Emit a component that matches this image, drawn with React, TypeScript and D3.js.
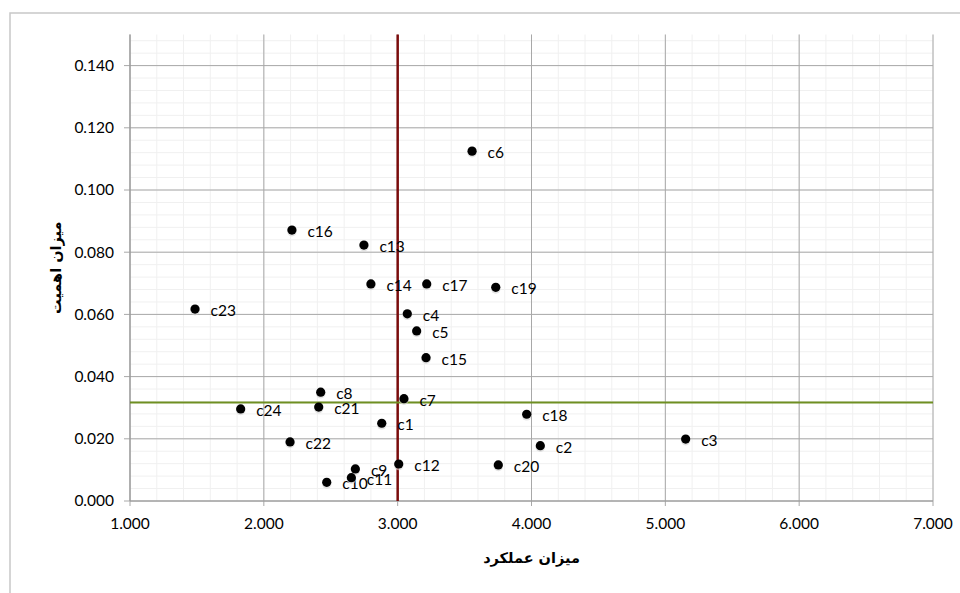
import React from "react";
import * as d3 from "d3";

const labels = ["c1","c2","c3","c4","c5","c6","c7","c8","c9","c10","c11","c12","c13","c14","c15","c16","c17","c18","c19","c20","c21","c22","c23","c24"];
const performance = [2.881,4.066,5.152,3.072,3.142,3.556,3.047,2.425,2.684,2.470,2.654,3.008,2.748,2.800,3.212,2.210,3.217,3.964,3.733,3.752,2.410,2.196,1.486,1.827];
const importance = [0.0250,0.0178,0.0199,0.0602,0.0547,0.1125,0.0329,0.0350,0.0103,0.0060,0.0075,0.0119,0.0823,0.0698,0.0461,0.0871,0.0698,0.0279,0.0687,0.0116,0.0302,0.0190,0.0617,0.0296];
const xTicks = [1,2,3,4,5,6,7];
const yTicks = [0,0.02,0.04,0.06,0.08,0.1,0.12,0.14];
const refX = 3.0;
const refY = 0.0317;
const xTitle = "میزان عملکرد";
const yTitle = "میزان اهمیت";

export default function App() {
  const W = 960, H = 593;
  const x = d3.scaleLinear().domain([1, 7]).range([130, 933]);
  const y = d3.scaleLinear().domain([0, 0.15]).range([501, 34.5]);
  const xMinor = d3.range(1, 7.001, 0.2);
  const yMinor = d3.range(0, 0.1501, 0.004);
  const font = "Lato, 'Open Sans', sans-serif";
  const gridColor = "#a8a8a8";
  return (
    <svg width={W} height={H} style={{ position: "absolute", left: 0, top: 0, background: "#fff" }}>
      <rect x={10} y={13} width={960} height={600} fill="#fff" stroke="#c8c8c8" strokeWidth={1.5} />
      {xMinor.map((v, i) => (
        <line key={"xm" + i} x1={x(v)} x2={x(v)} y1={y(0.15)} y2={y(0)} stroke="#f0f0f0" strokeWidth={1} />
      ))}
      {yMinor.map((v, i) => (
        <line key={"ym" + i} x1={x(1)} x2={x(7)} y1={y(v)} y2={y(v)} stroke="#f0f0f0" strokeWidth={1} />
      ))}
      {yTicks.map((v) => (
        <g key={"yt" + v}>
          <line x1={x(1) - 6} x2={x(7)} y1={y(v)} y2={y(v)} stroke={gridColor} strokeWidth={1} />
          <text x={114} y={y(v)} dy="0.35em" textAnchor="end" fontFamily={font} fontSize={15.5} fill="#000">
            {v.toFixed(3)}
          </text>
        </g>
      ))}
      {xTicks.map((v) => (
        <g key={"xt" + v}>
          <line x1={x(v)} x2={x(v)} y1={y(0.15)} y2={y(0) + 5} stroke={gridColor} strokeWidth={1} />
          <text x={x(v)} y={524} dy="0.35em" textAnchor="middle" fontFamily={font} fontSize={15.5} fill="#000">
            {v.toFixed(3)}
          </text>
        </g>
      ))}
      <line x1={x(1)} x2={x(1)} y1={y(0.15)} y2={y(0)} stroke="#999" strokeWidth={1.2} />
      <line x1={x(1)} x2={x(7)} y1={y(0)} y2={y(0)} stroke="#999" strokeWidth={1.2} />
      <line x1={x(refX)} x2={x(refX)} y1={y(0.15)} y2={y(0)} stroke="#7a0c0c" strokeWidth={2.5} />
      <line x1={x(1)} x2={x(7)} y1={y(refY)} y2={y(refY)} stroke="#6f8f22" strokeWidth={2} />
      {labels.map((l, i) => (
        <g key={l}>
          <circle cx={x(performance[i])} cy={y(importance[i]) + 1.5} r={4.8} fill="#d0d0d0" opacity={0.6} />
          <circle cx={x(performance[i])} cy={y(importance[i])} r={4.6} fill="#000" />
          <text x={x(performance[i]) + 15.5} y={y(importance[i]) + 1.5} dy="0.35em" fontFamily={font} fontSize={15.5} fill="#000">
            {l}
          </text>
        </g>
      ))}
      <text x={(x(1) + x(7)) / 2} y={558} dy="0.35em" textAnchor="middle" fontFamily="'DejaVu Sans', sans-serif" fontWeight="bold" fontSize={14.5} fill="#000">
        {xTitle}
      </text>
      <text transform={`translate(56,${(y(0) + y(0.15)) / 2}) rotate(-90)`} dy="0.35em" textAnchor="middle" fontFamily="'DejaVu Sans', sans-serif" fontWeight="bold" fontSize={14.5} fill="#000">
        {yTitle}
      </text>
    </svg>
  );
}
